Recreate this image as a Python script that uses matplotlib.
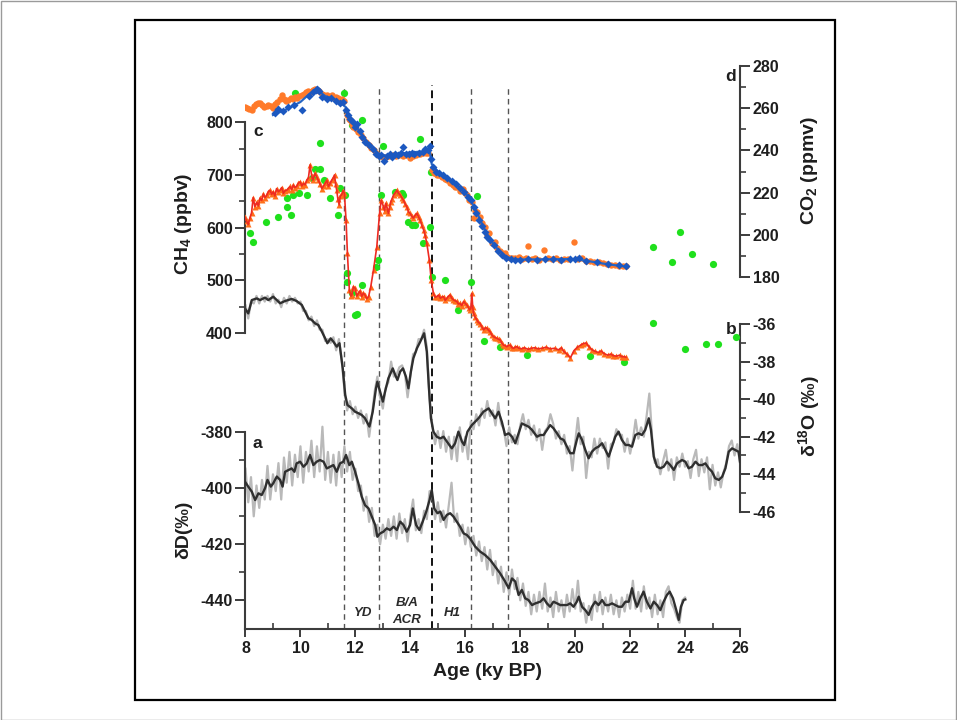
import numpy as np
import matplotlib
matplotlib.use("Agg")
import matplotlib.pyplot as plt
from matplotlib.ticker import FixedLocator
from matplotlib.patches import Rectangle
from matplotlib.transforms import blended_transform_factory

plt.rcParams['font.family'] = ['Liberation Sans', 'DejaVu Sans']
plt.rcParams['font.weight'] = 'bold'
plt.rcParams['mathtext.fontset'] = 'custom'
plt.rcParams['mathtext.rm'] = 'Liberation Sans:bold'
plt.rcParams['mathtext.default'] = 'rm'
plt.rcParams['axes.unicode_minus'] = False

# ---------------- data ----------------
# (a) deltaD, raw record on a 0.1 ky grid starting at 8 ky
dD_raw_start = 8.0
dD_raw = [
    -393, -405, -396, -410, -399, -407, -397, -404, -392, -404,
    -395, -401, -391, -404, -389, -398, -387, -399, -388, -396,
    -385, -398, -387, -394, -383, -396, -385, -394, -378, -397,
    -387, -398, -388, -399, -387, -396, -385, -394, -387, -397,
    -393, -401, -399, -408, -403, -412, -407, -417, -413, -420,
    -413, -418, -411, -417, -410, -418, -409, -416, -411, -419,
    -410, -404, -415, -411, -416, -408, -411, -401, -403, -411,
    -405, -412, -408, -414, -406, -398, -412, -409, -417, -413,
    -420, -414, -421, -417, -424, -419, -426, -421, -429, -422,
    -431, -426, -434, -428, -437, -430, -438, -429, -436, -432,
    -440, -434, -442, -437, -445, -438, -444, -437, -443, -434,
    -444, -439, -446, -437, -444, -440, -446, -438, -444, -436,
    -443, -433, -444, -441, -448, -442, -447, -438, -444, -437,
    -445, -439, -444, -438, -445, -440, -446, -439, -444, -438,
    -443, -433, -443, -437, -444, -435, -443, -439, -446, -438,
    -445, -440, -446, -437, -435, -441, -443, -446, -448, -440,
    -439,
]
# (a) deltaD, smoothed record
dD_age = [
    7.98, 8.10, 8.23, 8.35, 8.47, 8.59, 8.71, 8.80, 8.92, 9.01,
    9.14, 9.26, 9.35, 9.44, 9.56, 9.68, 9.78, 9.86, 9.99, 10.11,
    10.23, 10.35, 10.47, 10.59, 10.71, 10.84, 10.96, 11.08, 11.20, 11.32,
    11.44, 11.56, 11.66, 11.78, 11.87, 11.99, 12.11, 12.23, 12.35, 12.48,
    12.60, 12.72, 12.80, 12.90, 13.02, 13.14, 13.26, 13.39, 13.51, 13.63,
    13.75, 13.87, 13.99, 14.09, 14.21, 14.33, 14.45, 14.58, 14.70, 14.78,
    14.87, 14.99, 15.09, 15.21, 15.33, 15.45, 15.57, 15.69, 15.81, 15.94,
    16.06, 16.18, 16.36, 16.54, 16.72, 16.91, 17.09, 17.27, 17.45, 17.58,
    17.70, 17.82, 17.94, 18.06, 18.18, 18.30, 18.43, 18.55, 18.73, 18.85,
    18.97, 19.09, 19.21, 19.34, 19.46, 19.58, 19.70, 19.82, 19.94, 20.06,
    20.13, 20.25, 20.37, 20.49, 20.61, 20.73, 20.85, 20.98, 21.10, 21.22,
    21.34, 21.46, 21.58, 21.70, 21.83, 21.95, 22.07, 22.15, 22.25, 22.37,
    22.49, 22.61, 22.74, 22.86, 22.98, 23.10, 23.22, 23.34, 23.44, 23.56,
    23.68, 23.77, 23.85, 23.95, 24.01,
]
dD_smooth = [
    -397.6, -399.4, -401.2, -404.2, -401.8, -402.4, -400.0, -397.0, -399.4, -398.2,
    -395.8, -397.0, -399.4, -394.1, -393.5, -392.9, -394.1, -391.1, -390.5, -392.3,
    -391.1, -388.1, -391.7, -390.5, -389.9, -390.5, -392.9, -392.3, -391.7, -394.1,
    -391.1, -390.5, -388.1, -391.7, -390.5, -394.1, -398.2, -403.0, -406.0, -407.2,
    -410.1, -413.1, -417.3, -416.1, -415.5, -414.3, -414.9, -413.7, -414.9, -411.9,
    -413.1, -415.5, -413.1, -407.2, -413.1, -414.9, -411.9, -408.3, -404.2, -400.6,
    -407.2, -408.9, -408.3, -411.3, -409.5, -408.9, -410.1, -411.9, -413.7, -416.1,
    -416.7, -418.0, -420.8, -422.6, -423.8, -425.6, -428.0, -430.4, -433.3, -435.7,
    -432.2, -433.3, -438.1, -436.3, -439.3, -439.9, -441.7, -441.1, -440.5, -439.3,
    -441.1, -442.3, -440.5, -441.1, -441.7, -441.7, -441.7, -441.1, -442.3, -440.5,
    -438.7, -442.3, -443.5, -445.2, -442.3, -440.5, -441.7, -439.9, -441.7, -441.7,
    -441.1, -441.7, -442.3, -442.3, -440.5, -440.5, -435.7, -439.3, -442.3, -439.3,
    -436.9, -440.5, -442.9, -440.5, -441.7, -443.5, -440.5, -438.1, -436.9, -439.3,
    -443.5, -447.0, -442.3, -439.9, -439.7,
]

# (b) d18O, raw record on a 0.1 ky grid starting at 8 ky
d18O_raw_start = 8.0
d18O_raw = [
    -35.0, -35.7, -34.8, -34.9, -34.5, -34.9, -34.5, -34.8, -34.5, -34.8,
    -34.4, -34.9, -34.7, -35.1, -34.6, -34.9, -34.5, -34.8, -34.6, -34.9,
    -34.8, -35.3, -35.3, -35.8, -35.6, -36.1, -35.8, -36.3, -36.3, -36.9,
    -36.8, -37.0, -36.7, -37.4, -36.8, -37.9, -39.5, -40.6, -40.1, -40.8,
    -40.4, -41.0, -40.6, -41.3, -40.8, -42.0, -40.9, -39.6, -38.8, -39.9,
    -40.5, -39.4, -39.1, -38.0, -38.8, -38.7, -38.3, -38.2, -38.6, -39.9,
    -38.8, -37.6, -37.5, -36.8, -36.8, -36.3, -37.2, -40.0, -41.4, -42.4,
    -41.7, -42.6, -41.7, -42.8, -42.0, -43.2, -42.0, -43.3, -41.5, -42.8,
    -42.0, -43.2, -41.2, -41.6, -40.8, -41.4, -40.5, -41.0, -40.1, -40.9,
    -40.6, -41.4, -40.2, -41.3, -41.6, -42.5, -41.5, -42.3, -41.9, -42.4,
    -41.4, -40.8, -41.6, -41.1, -41.9, -41.4, -42.2, -41.6, -42.7, -41.7,
    -41.5, -40.8, -41.3, -42.1, -41.7, -42.4, -41.9, -42.9, -42.5, -43.8,
    -42.3, -41.0, -42.4, -42.0, -44.2, -42.8, -43.1, -42.1, -42.9, -42.1,
    -42.6, -42.3, -43.7, -42.4, -42.3, -41.6, -41.9, -41.9, -42.8, -42.1,
    -42.9, -42.2, -41.1, -42.1, -41.5, -42.0, -40.9, -39.7, -42.0, -43.4,
    -43.2, -44.0, -43.3, -42.7, -43.8, -43.2, -44.3, -43.1, -43.6, -42.9,
    -43.6, -43.3, -44.2, -43.2, -42.7, -44.1, -43.2, -43.9, -43.1, -44.8,
    -43.5, -44.6, -43.9, -44.7, -43.9, -43.4, -42.5, -42.2, -43.0, -42.4,
    -43.4,
]
# (b) d18O, smoothed record
d18O_age = [
    7.98, 8.10, 8.23, 8.41, 8.53, 8.71, 8.83, 9.01, 9.14, 9.26,
    9.44, 9.68, 9.86, 10.05, 10.17, 10.29, 10.41, 10.53, 10.65, 10.78,
    10.90, 10.98, 11.10, 11.20, 11.32, 11.42, 11.47, 11.54, 11.63, 11.71,
    11.87, 11.99, 12.11, 12.23, 12.35, 12.51, 12.63, 12.75, 12.80, 12.90,
    13.00, 13.08, 13.20, 13.36, 13.45, 13.53, 13.63, 13.73, 13.84, 13.93,
    14.02, 14.11, 14.24, 14.36, 14.50, 14.60, 14.67, 14.75, 14.84, 14.96,
    15.09, 15.21, 15.33, 15.51, 15.63, 15.75, 15.88, 15.96, 16.08, 16.24,
    16.36, 16.48, 16.66, 16.85, 16.97, 17.09, 17.21, 17.33, 17.45, 17.58,
    17.70, 17.82, 17.94, 18.06, 18.18, 18.30, 18.43, 18.61, 18.73, 18.85,
    18.97, 19.09, 19.21, 19.34, 19.46, 19.58, 19.70, 19.82, 19.94, 20.06,
    20.13, 20.25, 20.37, 20.49, 20.61, 20.73, 20.85, 20.98, 21.10, 21.22,
    21.34, 21.46, 21.58, 21.70, 21.83, 21.95, 22.07, 22.19, 22.31, 22.43,
    22.55, 22.68, 22.76, 22.86, 22.98, 23.10, 23.22, 23.34, 23.46, 23.59,
    23.71, 23.89, 24.01, 24.13, 24.25, 24.38, 24.50, 24.62, 24.74, 24.86,
    24.98, 25.10, 25.23, 25.35, 25.47, 25.59, 25.71, 25.83, 25.95, 26.00,
]
d18O_smooth = [
    -35.16, -35.43, -34.72, -34.63, -34.72, -34.59, -34.72, -34.54, -34.72, -34.89,
    -34.77, -34.66, -34.77, -34.98, -35.34, -35.69, -35.78, -35.96, -36.05, -36.40,
    -36.76, -37.02, -36.76, -36.94, -37.20, -37.02, -37.56, -38.36, -39.78, -40.31,
    -40.49, -40.67, -40.75, -40.84, -41.02, -41.46, -40.67, -39.42, -39.07, -39.60,
    -40.13, -39.60, -38.89, -38.36, -38.71, -38.98, -38.53, -38.36, -38.80, -39.42,
    -38.53, -37.82, -37.29, -36.94, -36.49, -37.47, -39.24, -41.02, -41.73, -42.00,
    -42.09, -42.00, -42.26, -42.62, -42.35, -41.73, -42.26, -42.44, -41.73, -41.38,
    -41.20, -41.02, -40.67, -40.49, -40.75, -41.02, -40.67, -41.20, -41.91, -41.82,
    -42.00, -42.35, -41.82, -41.29, -41.38, -41.46, -41.64, -42.00, -41.91, -41.91,
    -41.64, -41.38, -41.55, -41.82, -42.09, -42.17, -42.53, -42.88, -42.88, -42.17,
    -41.82, -42.17, -42.71, -43.15, -42.80, -42.62, -42.53, -42.35, -42.71, -43.06,
    -42.53, -42.00, -41.73, -42.17, -42.44, -42.44, -42.53, -41.91, -41.82, -41.91,
    -41.64, -41.02, -41.64, -43.06, -43.60, -43.68, -43.60, -43.33, -43.51, -43.77,
    -43.42, -43.24, -43.33, -43.68, -43.60, -43.33, -43.51, -43.51, -43.42, -43.68,
    -43.86, -44.22, -44.30, -44.13, -43.68, -42.80, -42.62, -42.71, -42.80, -43.33,
]

# (c) CH4 record (triangles joined by a line)
ch4_age = [
    7.98, 8.04, 8.10, 8.16, 8.22, 8.28, 8.34, 8.41, 8.47, 8.53,
    8.59, 8.65, 8.71, 8.77, 8.83, 8.89, 8.95, 9.01, 9.07, 9.13,
    9.20, 9.26, 9.32, 9.38, 9.44, 9.50, 9.56, 9.62, 9.68, 9.74,
    9.80, 9.86, 9.92, 9.99, 10.05, 10.11, 10.17, 10.23, 10.29, 10.35,
    10.41, 10.45, 10.53, 10.59, 10.65, 10.71, 10.78, 10.84, 10.90, 10.96,
    11.02, 11.08, 11.14, 11.19, 11.24, 11.28, 11.32, 11.36, 11.41, 11.45,
    11.50, 11.55, 11.60, 11.66, 11.71, 11.78, 11.84, 11.87, 11.93, 11.99,
    12.05, 12.11, 12.17, 12.23, 12.29, 12.35, 12.41, 12.48, 12.56, 12.66,
    12.78, 12.88, 12.94, 13.02, 13.06, 13.11, 13.16, 13.20, 13.25, 13.29,
    13.34, 13.39, 13.45, 13.51, 13.57, 13.63, 13.69, 13.75, 13.81, 13.87,
    13.93, 13.99, 14.05, 14.11, 14.17, 14.24, 14.30, 14.36, 14.42, 14.48,
    14.54, 14.60, 14.69, 14.76, 14.84, 14.90, 14.96, 15.03, 15.09, 15.15,
    15.21, 15.27, 15.33, 15.39, 15.45, 15.51, 15.57, 15.63, 15.69, 15.75,
    15.81, 15.87, 15.94, 16.00, 16.06, 16.12, 16.16, 16.20, 16.24, 16.27,
    16.30, 16.36, 16.42, 16.48, 16.54, 16.60, 16.67, 16.73, 16.79, 16.85,
    16.91, 16.97, 17.03, 17.09, 17.15, 17.21, 17.27, 17.33, 17.39, 17.45,
    17.51, 17.57, 17.64, 17.70, 17.76, 17.82, 17.88, 17.95, 18.05, 18.15,
    18.29, 18.40, 18.52, 18.65, 18.80, 18.94, 19.10, 19.25, 19.40, 19.50,
    19.59, 19.70, 19.83, 19.95, 20.08, 20.20, 20.30, 20.40, 20.50, 20.62,
    20.73, 20.85, 20.95, 21.05, 21.18, 21.30, 21.38, 21.50, 21.62, 21.70,
    21.78, 21.85,
]
ch4_ppb = [
    620, 612, 606, 618, 628, 657, 640, 648, 641, 656,
    652, 664, 657, 661, 668, 671, 663, 668, 660, 674,
    668, 671, 676, 665, 670, 671, 674, 678, 672, 681,
    676, 678, 684, 687, 679, 684, 681, 690, 694, 719,
    698, 690, 703, 696, 690, 683, 674, 679, 684, 690,
    678, 684, 690, 694, 700, 682, 671, 655, 643, 660,
    662, 670, 665, 614, 551, 482, 470, 472, 488, 485,
    470, 475, 480, 469, 476, 472, 465, 469, 488, 520,
    564, 627, 652, 640, 632, 646, 635, 627, 640, 649,
    655, 662, 666, 671, 665, 662, 657, 652, 645, 640,
    630, 627, 622, 618, 623, 627, 620, 614, 604, 596,
    585, 570, 539, 501, 475, 468, 469, 472, 466, 468,
    469, 462, 466, 470, 472, 466, 463, 461, 460, 455,
    456, 452, 460, 456, 453, 448, 444, 446, 475, 450,
    437, 430, 425, 420, 418, 412, 406, 410, 409, 405,
    402, 396, 393, 391, 390, 388, 387, 381, 377, 376,
    374, 376, 377, 372, 371, 373, 374, 371, 370, 372,
    369, 371, 372, 370, 371, 373, 370, 371, 368, 372,
    365, 360, 353, 366, 373, 377, 380, 381, 374, 368,
    365, 363, 366, 361, 358, 360, 357, 356, 358, 355,
    355, 354,
]
# (c) second CH4 record (green dots)
ch4_b_age = [
    8.16, 8.28, 8.75, 9.20, 9.50, 9.50, 9.66, 9.74, 9.93, 10.23,
    10.41, 10.53, 10.71, 10.71, 10.84, 11.08, 11.35, 11.44, 11.63, 11.71,
    11.71, 11.87, 11.99, 12.07, 12.23, 12.75, 12.82, 12.94, 13.45, 13.69,
    13.75, 13.93, 14.05, 14.17, 14.45, 14.70, 14.78, 15.27, 15.75, 16.20,
    16.67, 17.27, 18.26, 20.53, 21.78, 22.84, 24.01, 24.76, 25.20, 25.85,
]
ch4_b_ppb = [
    589, 573, 611, 621, 640, 656, 624, 662, 665, 662,
    694, 712, 712, 760, 690, 656, 624, 675, 662, 513,
    497, 475, 434, 436, 491, 526, 539, 662, 668, 665,
    662, 611, 605, 605, 570, 602, 507, 501, 444, 497,
    384, 374, 359, 357, 345, 419, 369, 379, 379, 392,
]

# (d) CO2 record 1 (orange dots)
co2_a_age = [
    7.98, 8.06, 8.14, 8.22, 8.30, 8.38, 8.46, 8.53, 8.61, 8.69,
    8.77, 8.83, 8.92, 9.00, 9.08, 9.16, 9.24, 9.32, 9.40, 9.48,
    9.56, 9.64, 9.72, 9.80, 9.87, 9.95, 10.05, 10.13, 10.21, 10.29,
    10.37, 10.45, 10.53, 10.61, 10.69, 10.78, 10.86, 10.96, 11.04, 11.14,
    11.22, 11.30, 11.38, 11.44, 11.52, 11.60, 11.69, 11.75, 11.81, 11.88,
    11.93, 12.02, 12.11, 12.20, 12.29, 12.38, 12.48, 12.57, 12.66, 12.75,
    12.84, 12.93, 13.02, 13.12, 13.24, 13.36, 13.48, 13.60, 13.72, 13.84,
    13.99, 14.10, 14.22, 14.34, 14.46, 14.58, 14.66, 14.78, 14.87, 14.96,
    15.06, 15.16, 15.26, 15.33, 15.45, 15.57, 15.63, 15.70, 15.81, 15.90,
    15.98, 16.06, 16.15, 16.24, 16.30, 16.36, 16.42, 16.52, 16.60, 16.70,
    16.79, 16.88, 16.97, 17.09, 17.15, 17.25, 17.33, 17.45, 17.51, 17.62,
    17.70, 17.82, 17.94, 18.08, 18.20, 18.29, 18.42, 18.55, 18.70, 18.87,
    19.00, 19.15, 19.30, 19.45, 19.60, 19.75, 19.97, 20.10, 20.25, 20.40,
    20.55, 20.70, 20.85, 21.00, 21.15, 21.30, 21.45, 21.60, 21.75, 21.85,
]
co2_a_ppm = [
    260.5, 260.0, 259.6, 259.2, 261.0, 262.0, 262.3, 262.4, 261.5, 260.5,
    261.0, 261.6, 261.0, 260.0, 262.0, 263.0, 264.5, 266.3, 264.5, 263.5,
    263.9, 265.0, 264.5, 265.5, 264.7, 266.0, 266.3, 267.0, 267.5, 268.0,
    267.5, 268.5, 269.0, 268.5, 268.0, 267.0, 266.5, 266.3, 265.5, 266.3,
    265.0, 265.5, 265.0, 263.9, 264.5, 263.5, 256.8, 255.0, 254.4, 252.5,
    251.3, 250.0, 248.9, 247.5, 245.8, 244.0, 242.6, 241.0, 240.2, 239.0,
    237.8, 237.2, 237.1, 236.8, 237.3, 237.8, 237.4, 237.9, 237.6, 238.0,
    236.3, 237.5, 238.0, 238.4, 238.9, 238.6, 238.6, 230.7, 229.5, 228.4,
    228.2, 227.6, 226.5, 226.0, 224.8, 223.6, 222.5, 222.8, 220.8, 221.5,
    219.8, 218.9, 216.5, 215.7, 207.8, 211.5, 211.0, 208.6, 205.4, 203.9,
    199.9, 200.7, 196.0, 196.8, 193.6, 192.5, 191.2, 191.2, 189.6, 189.0,
    188.8, 189.2, 189.6, 188.6, 188.9, 194.5, 188.5, 188.8, 188.2, 192.8,
    188.9, 188.6, 189.0, 188.2, 188.6, 188.4, 196.8, 188.5, 188.9, 187.8,
    187.6, 187.2, 186.9, 186.6, 186.1, 185.9, 185.6, 185.4, 185.2, 185.0,
]
# (d) CO2 record 2 (blue diamonds) and its spline fit
co2_b_age = [
    9.07, 9.20, 9.35, 9.55, 9.75, 10.05, 10.30, 10.45, 10.55, 10.62,
    10.68, 10.80, 10.95, 11.10, 11.30, 11.45, 11.55, 11.65, 11.72, 11.80,
    11.90, 12.00, 12.05, 12.15, 12.25, 12.35, 12.50, 12.65, 12.75, 12.85,
    12.95, 13.05, 13.15, 13.25, 13.35, 13.45, 13.55, 13.65, 13.75, 13.85,
    13.95, 14.05, 14.15, 14.30, 14.45, 14.55, 14.65, 14.72, 14.77, 14.82,
    14.95, 15.05, 15.20, 15.35, 15.50, 15.65, 15.80, 15.95, 16.10, 16.20,
    16.30, 16.40, 16.50, 16.60, 16.70, 16.80, 16.90, 17.05, 17.20, 17.35,
    17.50, 17.65, 17.80, 18.00, 18.30, 18.60, 18.90, 19.20, 19.50, 19.80,
    20.00, 20.15, 20.40, 20.80, 21.20, 21.60, 21.85,
]
co2_b_ppm = [
    257.6, 259.5, 258.5, 260.5, 261.5, 259.0, 266.0, 267.5, 268.5, 269.0,
    268.0, 265.5, 264.5, 265.0, 263.5, 262.5, 263.0, 259.0, 257.0, 255.0,
    253.5, 251.0, 252.5, 249.0, 246.5, 244.0, 242.5, 240.5, 238.5, 237.5,
    238.0, 235.0, 237.5, 238.5, 237.0, 238.5, 238.0, 239.0, 241.5, 238.5,
    238.5, 239.0, 238.5, 239.0, 239.5, 240.5, 240.0, 242.0, 236.0, 232.0,
    230.0, 229.5, 228.5, 227.0, 225.5, 224.0, 222.0, 220.5, 218.0, 216.5,
    213.0, 210.5, 207.0, 204.0, 201.5, 199.0, 197.5, 195.0, 192.5, 190.5,
    189.0, 188.5, 188.0, 188.0, 188.5, 188.0, 188.5, 188.5, 188.0, 188.5,
    188.5, 189.0, 187.5, 187.0, 186.0, 185.5, 185.0,
]
co2_fit_age = [
    9.0, 9.5, 10.0, 10.3, 10.6, 10.9, 11.2, 11.5, 11.65, 11.8,
    12.0, 12.3, 12.6, 12.85, 13.1, 13.5, 14.0, 14.4, 14.7, 14.78,
    15.0, 15.3, 15.6, 15.9, 16.15, 16.35, 16.55, 16.75, 16.95, 17.2,
    17.45, 17.7, 18.0, 19.0, 20.0, 20.5, 21.0, 21.5, 21.9,
]
co2_fit_ppm = [
    256.8, 259.5, 263.0, 266.5, 269.0, 265.8, 264.5, 262.3, 260.5, 255.5,
    251.8, 246.3, 241.5, 238.5, 237.5, 238.3, 239.0, 239.5, 240.2, 233.5,
    230.0, 227.5, 224.3, 221.3, 217.5, 212.5, 206.8, 201.2, 197.0, 192.8,
    190.0, 188.6, 188.3, 188.4, 188.5, 187.5, 186.4, 185.5, 184.8,
]
# (d) CO2 record 3 (green dots)
co2_c_age = [9.80, 11.59, 11.87, 12.25, 13.02, 14.36, 14.75, 16.43,
             22.84, 23.54, 23.81, 24.27, 25.00]
co2_c_ppm = [267.1, 267.2, 252.1, 254.4, 242.1, 245.2, 230.0, 218.6,
             194.2, 187.0, 201.2, 191.0, 186.0]

# climate event boundaries (ky BP) and their labels
event_bounds = [11.6, 12.85, 14.78, 16.21, 17.57]
event_labels = [("YD", 12.27), ("B/A", 13.87), ("ACR", 13.87), ("H1", 15.51)]

# ---------------- figure ----------------
W, H = 957, 720
fig = plt.figure(figsize=(W / 100, H / 100), dpi=100)
fig.patch.set_facecolor('white')

# outer and inner frames
fig.patches.append(Rectangle((0.5 / W, 0.5 / H), (W - 1.5) / W, (H - 1.5) / H,
                             transform=fig.transFigure, fill=False,
                             edgecolor='#9a9a9a', lw=1.0))
fig.patches.append(Rectangle((135 / W, 1 - 700 / H), 700 / W, 680 / H,
                             transform=fig.transFigure, fill=False,
                             edgecolor='black', lw=1.6))

rect = [0.25653, 0.12639, 0.51672, 0.78181]
AXC = '#3c3c3c'
TXT = '#1e1e1e'
GRAY = '#b9b9b9'
DARK = '#2f2f2f'


def make_axis(side, ylim, bounds, majors, minors):
    ax = fig.add_axes(rect)
    ax.set_xlim(8, 26)
    ax.set_ylim(*ylim)
    ax.patch.set_visible(False)
    for s in ax.spines.values():
        s.set_visible(False)
    sp = ax.spines[side]
    sp.set_visible(True)
    sp.set_bounds(*bounds)
    sp.set_linewidth(1.5)
    sp.set_color(AXC)
    ax.yaxis.set_ticks_position(side)
    ax.yaxis.set_major_locator(FixedLocator(majors))
    ax.yaxis.set_minor_locator(FixedLocator(minors))
    ax.tick_params(axis='y', which='major', direction='out', length=7,
                   width=1.4, color=AXC, labelsize=11.5, pad=2,
                   labelcolor=TXT)
    ax.tick_params(axis='y', which='minor', direction='out', length=4,
                   width=1.2, color=AXC)
    ax.tick_params(axis='x', which='both', bottom=False, top=False,
                   labelbottom=False)
    return ax


ax_dD = make_axis('left', (-450.25, -249.2), (-450.25, -380),
                  [-440, -420, -400, -380], [-430, -410, -390])
ax_dD.spines['bottom'].set_visible(True)
ax_dD.spines['bottom'].set_linewidth(1.5)
ax_dD.spines['bottom'].set_color(AXC)
ax_dD.xaxis.set_major_locator(FixedLocator(np.arange(8, 27, 2)))
ax_dD.xaxis.set_minor_locator(FixedLocator(np.arange(9, 26, 2)))
ax_dD.tick_params(axis='x', which='major', bottom=True, labelbottom=True,
                  direction='out', length=6, width=1.4, color=AXC,
                  labelsize=11.5, pad=3, labelcolor=TXT)
ax_dD.tick_params(axis='x', which='minor', bottom=True, direction='in',
                  length=4, width=1.2, color=AXC)

ax_d18 = make_axis('right', (-52.244, -22.255), (-46, -36),
                   np.arange(-46, -35, 2), np.arange(-45, -36, 2))
ax_ch4 = make_axis('left', (-161.7, 906.45), (400, 800),
                   np.arange(400, 801, 100), np.arange(450, 800, 100))
ax_co2 = make_axis('right', (13.1, 280.0), (180, 280),
                   np.arange(180, 281, 20), np.arange(190, 280, 20))

# dashed event boundaries
top_frac = (629 - 85) / (629 - 66.1)
for i, xb in enumerate(event_bounds):
    strong = (i == 2)
    ax_dD.axvline(xb, ymin=0, ymax=top_frac,
                  color='#111111' if strong else '#555555',
                  lw=1.4 if strong else 1.0,
                  ls=(0, (4, 2.5)) if strong else (0, (4, 3)), zorder=1)

xfig = blended_transform_factory(ax_dD.transData, fig.transFigure)
for lab, xx in event_labels:
    yy = {"YD": 1 - 613.3 / H, "B/A": 1 - 602.7 / H,
          "ACR": 1 - 620.0 / H, "H1": 1 - 613.3 / H}[lab]
    fig.text(xx, yy, lab, transform=xfig, ha='center', va='center',
             fontsize=9.5, style='italic', color='#2a2a2a')

# (a) deltaD
dD_raw_age = dD_raw_start + 0.1 * np.arange(len(dD_raw))
ax_dD.plot(dD_raw_age, dD_raw, color=GRAY, lw=1.6, zorder=2)
ax_dD.plot(dD_age, dD_smooth, color=DARK, lw=1.7, zorder=3)

# (b) d18O
d18O_raw_age = d18O_raw_start + 0.1 * np.arange(len(d18O_raw))
ax_d18.plot(d18O_raw_age, d18O_raw, color=GRAY, lw=1.6, zorder=2)
ax_d18.plot(d18O_age, d18O_smooth, color=DARK, lw=1.7, zorder=3)

# (c) CH4
ax_ch4.plot(ch4_b_age, ch4_b_ppb, 'o', color='#1fe01c', ms=5.2, mec='none',
            zorder=2)
ax_ch4.plot(ch4_age, ch4_ppb, '^', color='#ff6f1a', ms=4.6, mec='none',
            zorder=3)
ax_ch4.plot(ch4_age, ch4_ppb, '-', color='#ee2a22', lw=1.2, zorder=4)

# (d) CO2
ax_co2.plot(co2_c_age, co2_c_ppm, 'o', color='#1fe01c', ms=5.2, mec='none',
            zorder=2)
ax_co2.plot(co2_a_age, co2_a_ppm, 'o', color='#ff7a2a', ms=4.6, mec='none',
            zorder=3)
ax_co2.plot(co2_fit_age, co2_fit_ppm, '-', color='#2766c4', lw=1.6, zorder=4)
ax_co2.plot(co2_b_age, co2_b_ppm, 'D', color='#1c58c0', ms=4.3, mec='none',
            zorder=5)

# axis titles and panel letters
fig.text(487.7 / W, 1 - 671 / H, "Age (ky BP)", ha='center', va='center',
         fontsize=14, color=TXT)
fig.text(183.2 / W, 1 - 224 / H, "CH$_4$ (ppbv)", rotation=90, ha='center',
         va='center', fontsize=14, color=TXT)
fig.text(183.2 / W, 1 - 530 / H, "δD(‰)", rotation=90, ha='center',
         va='center', fontsize=14, color=TXT)
fig.text(809 / W, 1 - 170.5 / H, "CO$_2$ (ppmv)", rotation=90, ha='center',
         va='center', fontsize=14, color=TXT)
fig.text(809 / W, 1 - 415.7 / H, "δ$^{18}$O (‰)", rotation=90, ha='center',
         va='center', fontsize=14, color=TXT)
for letter, px, py in [("a", 257.8, 444), ("c", 257.8, 131.7),
                       ("b", 731, 329.6), ("d", 731, 76.6)]:
    fig.text(px / W, 1 - py / H, letter, ha='center', va='center',
             fontsize=12.5, color=TXT)

fig.savefig("out.png", dpi=100, facecolor='white')
